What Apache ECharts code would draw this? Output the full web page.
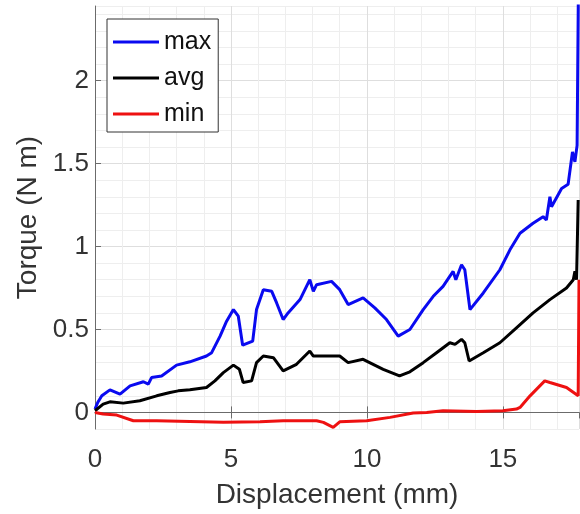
<!DOCTYPE html>
<html><head><meta charset="utf-8">
<script src="https://cdn.jsdelivr.net/npm/echarts@6/dist/echarts.min.js"></script>
<style>html,body{margin:0;padding:0;background:#fff}#c{width:580px;height:514px}</style>
</head><body><div id="c"></div>
<script>
// Displacement (mm) and torque (N m)
const maxDisp = [0, 0.1, 0.25, 0.55, 0.92, 1.29, 1.78, 1.96, 2.08, 2.45, 3.0, 3.49, 4.1, 4.29, 4.6, 4.84, 5.09, 5.27, 5.43, 5.8, 5.94, 6.19, 6.5, 6.68, 6.92, 7.1, 7.54, 7.9, 8.03, 8.15, 8.7, 9.0, 9.31, 9.86, 10.29, 10.72, 11.15, 11.58, 12.07, 12.44, 12.8, 13.17, 13.27, 13.48, 13.6, 13.79, 14.28, 14.89, 15.26, 15.63, 16.11, 16.48, 16.6, 16.73, 16.79, 17.16, 17.4, 17.56, 17.65, 17.73, 17.78];
const maxTorque = [0.02, 0.06, 0.10, 0.136, 0.11, 0.16, 0.185, 0.17, 0.21, 0.22, 0.285, 0.305, 0.34, 0.36, 0.46, 0.55, 0.62, 0.58, 0.405, 0.43, 0.62, 0.74, 0.73, 0.66, 0.56, 0.60, 0.68, 0.80, 0.73, 0.77, 0.79, 0.74, 0.65, 0.69, 0.63, 0.56, 0.46, 0.50, 0.62, 0.70, 0.76, 0.85, 0.80, 0.89, 0.86, 0.62, 0.72, 0.86, 0.98, 1.08, 1.14, 1.18, 1.16, 1.30, 1.24, 1.35, 1.375, 1.57, 1.51, 1.61, 2.6];
const avgDisp = [0, 0.3, 0.55, 1.04, 1.65, 2.27, 2.76, 3.06, 3.49, 4.1, 4.41, 4.72, 5.09, 5.31, 5.45, 5.76, 5.94, 6.19, 6.56, 6.92, 7.41, 7.9, 8.03, 8.64, 9.0, 9.31, 9.86, 10.6, 11.2, 11.58, 12.07, 12.56, 13.05, 13.24, 13.48, 13.6, 13.76, 14.28, 14.89, 15.5, 16.11, 16.73, 17.34, 17.59, 17.65, 17.71, 17.77];
const avgTorque = [0.01, 0.05, 0.064, 0.056, 0.07, 0.10, 0.12, 0.13, 0.136, 0.15, 0.19, 0.24, 0.285, 0.26, 0.18, 0.19, 0.30, 0.34, 0.33, 0.25, 0.29, 0.37, 0.34, 0.34, 0.34, 0.30, 0.32, 0.26, 0.22, 0.245, 0.30, 0.36, 0.42, 0.41, 0.44, 0.42, 0.31, 0.36, 0.42, 0.51, 0.60, 0.68, 0.75, 0.80, 0.85, 0.80, 1.28];
const minDisp = [0, 0.15, 0.3, 0.8, 1.41, 2.27, 3.49, 4.72, 6.07, 6.92, 8.15, 8.4, 8.76, 9.0, 9.99, 10.85, 11.7, 12.2, 12.8, 14.03, 15.0, 15.5, 15.63, 16.0, 16.54, 16.73, 17.34, 17.77, 17.8];
const minTorque = [0.0, -0.005, -0.01, -0.016, -0.05, -0.05, -0.055, -0.06, -0.057, -0.05, -0.05, -0.06, -0.09, -0.057, -0.05, -0.03, -0.004, 0, 0.01, 0.006, 0.01, 0.02, 0.03, 0.10, 0.19, 0.18, 0.15, 0.10, 0.8];
const seriesNames = ['max', 'avg', 'min'];
const xTicks = [0, 5, 10, 15];
const yTicks = [0, 0.5, 1, 1.5, 2];

const zip = (a, b) => a.map((v, i) => [v, b[i]]);
const FONT = '"Liberation Sans", Arial, Helvetica, sans-serif';
const AX = '#6b6b6b', MAJOR = '#dedede', MINOR = '#eeeeee';
const chart = echarts.init(document.getElementById('c'), null, {renderer: 'canvas'});
const mk = (name, data, color) => ({
  name, type: 'line', data, symbol: 'none', showSymbol: false, clip: true,
  lineStyle: {width: 3, color}, itemStyle: {color},
  emphasis: {disabled: true}, animation: false
});
chart.setOption({
  animation: false,
  backgroundColor: '#fff',
  grid: {left: 95, top: 6, right: 1, bottom: 85},
  legend: {
    data: seriesNames, orient: 'vertical', left: 107, top: 19,
    icon: 'rect', itemWidth: 46, itemHeight: 3, itemGap: 10, padding: [10, 7, 5, 6],
    borderColor: '#333', borderWidth: 1, backgroundColor: '#fff',
    textStyle: {fontSize: 25, color: '#111', lineHeight: 26, fontFamily: FONT}
  },
  xAxis: [{
    type: 'value', min: 0, max: 17.8, interval: 5, position: 'bottom',
    name: 'Displacement (mm)', nameLocation: 'middle', nameGap: 52,
    nameTextStyle: {fontSize: 28, color: '#333', fontFamily: FONT},
    axisLine: {show: true, lineStyle: {color: AX, width: 1}},
    axisTick: {show: true, inside: true, length: 6, lineStyle: {color: AX}},
    axisLabel: {fontSize: 26, color: '#333', margin: 18, fontFamily: FONT, showMaxLabel: false,
      formatter: v => xTicks.includes(v) ? String(v) : ''},
    splitLine: {show: true, lineStyle: {color: MAJOR, width: 1}},
    minorTick: {show: false, splitNumber: 5},
    minorSplitLine: {show: true, lineStyle: {color: MINOR, width: 1}}
  }, {
    type: 'value', min: 0, max: 17.8, interval: 5, position: 'top',
    axisLine: {show: true, lineStyle: {color: AX, width: 1}},
    axisTick: {show: true, inside: true, length: 6, lineStyle: {color: AX}},
    axisLabel: {show: false}, splitLine: {show: false}
  }],
  yAxis: [{
    type: 'value', min: -0.1, max: 2.45, position: 'left',
    name: 'Torque (N m)', nameLocation: 'middle', nameGap: 51,
    nameTextStyle: {fontSize: 28, color: '#333', fontFamily: FONT},
    axisLine: {show: true, lineStyle: {color: AX, width: 1}},
    axisTick: {show: true, inside: true, length: 6, lineStyle: {color: AX}, customValues: yTicks},
    axisLabel: {fontSize: 26, color: '#333', margin: 6, fontFamily: FONT, customValues: yTicks},
    splitLine: {show: true, lineStyle: {color: MAJOR, width: 1}}
  }, {
    type: 'value', min: -0.1, max: 2.45, interval: 0.1, position: 'left', z: -1,
    axisLine: {show: false}, axisTick: {show: false}, axisLabel: {show: false},
    splitLine: {show: true, lineStyle: {color: MINOR, width: 1}}
  }],
  series: [
    mk(seriesNames[0], zip(maxDisp, maxTorque), '#0a0af0'),
    mk(seriesNames[1], zip(avgDisp, avgTorque), '#000000'),
    mk(seriesNames[2], zip(minDisp, minTorque), '#ee1111')
  ]
});
</script></body></html>
